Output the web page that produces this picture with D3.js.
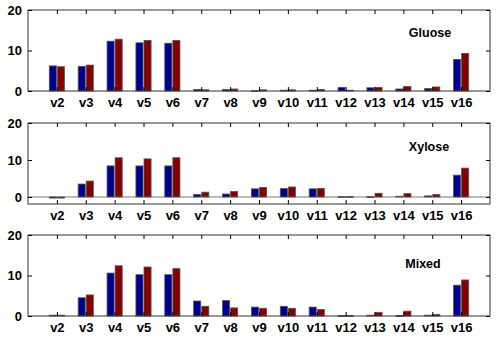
<!DOCTYPE html>
<html>
<head>
<meta charset="utf-8">
<script src="https://cdn.jsdelivr.net/npm/d3@7"></script>
<style>
  body { margin: 0; background: #fff; }
  text { font-family: Arial, "Liberation Sans", sans-serif; font-weight: bold; }
</style>
</head>
<body>
<div id="chart"></div>
<script>
// categories and series
var categories = ["v2","v3","v4","v5","v6","v7","v8","v9","v10","v11","v12","v13","v14","v15","v16"]

var gluoseBlue = [6.2, 6.1, 12.3, 11.9, 11.8, 0.4, 0.4, 0.05, 0.2, 0.2, 0.9, 0.8, 0.5, 0.6, 7.8]
var gluoseRed  = [6.0, 6.4, 12.8, 12.5, 12.5, 0.3, 0.5, 0.3, 0.3, 0.4, 0.2, 0.9, 1.1, 1.0, 9.3]

var xyloseBlue = [-0.3, 3.5, 8.4, 8.4, 8.4, 0.7, 0.8, 2.2, 2.3, 2.2, 0.1, 0.1, 0.2, 0.3, 5.9]
var xyloseRed  = [-0.3, 4.3, 10.6, 10.3, 10.6, 1.3, 1.5, 2.6, 2.7, 2.3, 0.1, 1.0, 0.9, 0.7, 7.8]

var mixedBlue = [0.2, 4.5, 10.6, 10.2, 10.2, 3.7, 3.8, 2.2, 2.4, 2.2, 0.1, 0.2, 0.1, 0.2, 7.6]
var mixedRed  = [0.2, 5.2, 12.4, 12.1, 11.7, 2.4, 2.0, 1.9, 1.9, 1.6, 0.1, 0.9, 1.2, 0.4, 8.9]

var yTicks = [0, 10, 20]

var panels = [
  { title: "Gluose", blue: gluoseBlue, red: gluoseRed, ymin: 0, top: 10, titleX: 430, titleY: 37 },
  { title: "Xylose", blue: xyloseBlue, red: xyloseRed, ymin: -1.9, top: 123, titleX: 429, titleY: 151 },
  { title: "Mixed", blue: mixedBlue, red: mixedRed, ymin: 0, top: 235, titleX: 423, titleY: 268 }
]

////////////////////////////// setup //////////////////////////////
var W = 500, H = 340
var left = 28, right = 490, ph = 81
var blueCol = "#00008f", redCol = "#850000", edge = "#555"

var svg = d3.select("#chart").append("svg")
  .attr("width", W)
  .attr("height", H)

var x = d3.scalePoint()
  .domain(categories)
  .range([left, right])
  .padding(1)

var step = x.step()
var bw = step * 0.245
var off = step * 0.14

panels.forEach(function (p) {
  var g = svg.append("g")
  var y = d3.scaleLinear()
    .domain([p.ymin, 20])
    .range([p.top + ph, p.top])

  // zero baseline (only visible when domain goes below 0)
  if (p.ymin < 0) {
    g.append("line")
      .attr("x1", left).attr("x2", right)
      .attr("y1", y(0)).attr("y2", y(0))
      .attr("stroke", "#777").attr("stroke-width", 1)
  }

  // bars
  var series = [
    { vals: p.blue, color: blueCol, dx: -off },
    { vals: p.red, color: redCol, dx: off }
  ]
  series.forEach(function (s) {
    g.selectAll(null)
      .data(s.vals)
      .enter().append("rect")
      .attr("x", (d, i) => x(categories[i]) + s.dx - bw / 2)
      .attr("y", d => Math.min(y(d), y(0)))
      .attr("width", bw)
      .attr("height", d => Math.max(Math.abs(y(d) - y(0)), 0.8))
      .attr("fill", s.color)
      .attr("stroke", edge)
      .attr("stroke-width", 0.8)
  })

  // box
  g.append("rect")
    .attr("x", left).attr("y", p.top)
    .attr("width", right - left).attr("height", ph)
    .attr("fill", "none")
    .attr("stroke", "#333")
    .attr("stroke-width", 1)

  // axes (ticks inward, mirrored)
  var bottom = p.top + ph
  g.append("g")
    .attr("transform", "translate(0," + bottom + ")")
    .call(d3.axisBottom(x).tickSizeInner(-4).tickSizeOuter(0).tickPadding(7))
    .call(a => a.select(".domain").remove())
    .call(a => a.selectAll("text").attr("font-size", "13px").attr("fill", "#000"))
  g.append("g")
    .attr("transform", "translate(0," + p.top + ")")
    .call(d3.axisTop(x).tickSizeInner(-4).tickSizeOuter(0).tickFormat(""))
    .call(a => a.select(".domain").remove())
  g.append("g")
    .attr("transform", "translate(" + left + ",0)")
    .call(d3.axisLeft(y).tickValues(yTicks).tickSizeInner(-4).tickSizeOuter(0).tickPadding(6))
    .call(a => a.select(".domain").remove())
    .call(a => a.selectAll("text").attr("font-size", "13px").attr("fill", "#000"))
  g.append("g")
    .attr("transform", "translate(" + right + ",0)")
    .call(d3.axisRight(y).tickValues(yTicks).tickSizeInner(-4).tickSizeOuter(0).tickFormat(""))
    .call(a => a.select(".domain").remove())

  g.selectAll(".tick line").attr("stroke", "#000")

  // title
  g.append("text")
    .attr("x", p.titleX)
    .attr("y", p.titleY)
    .attr("text-anchor", "middle")
    .attr("font-size", "12.5px")
    .text(p.title)
})
</script>
</body>
</html>
